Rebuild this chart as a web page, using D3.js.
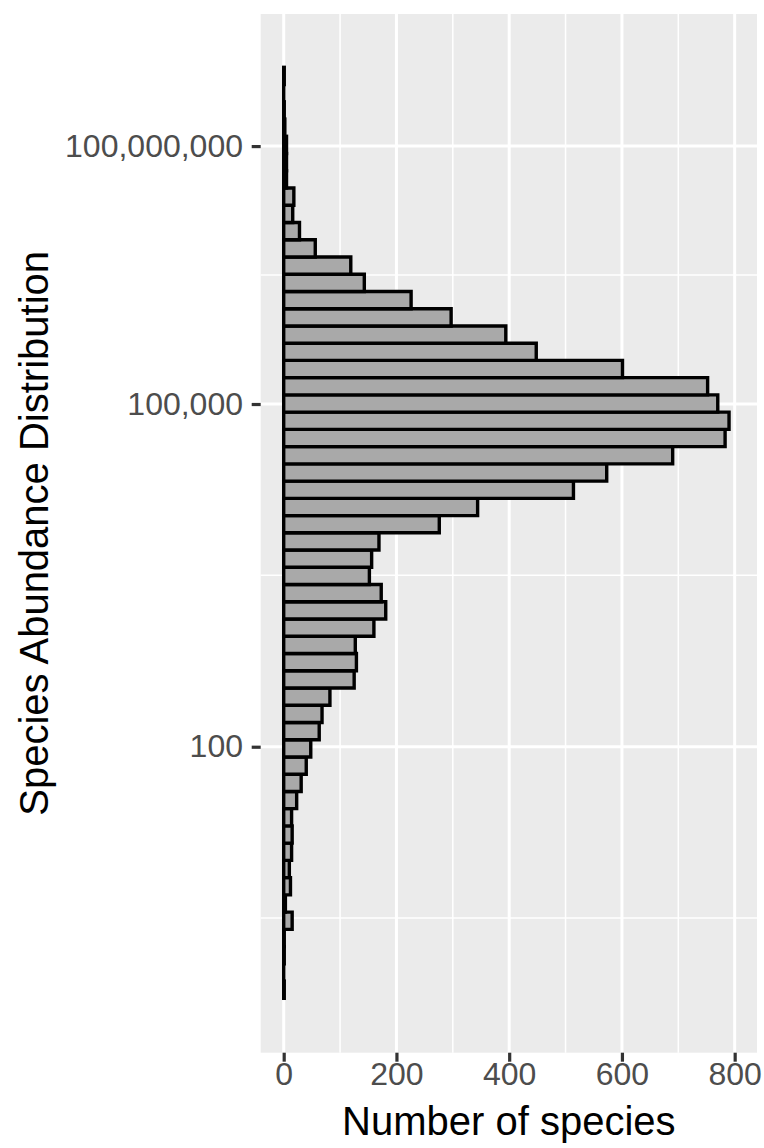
<!DOCTYPE html>
<html>
<head>
<meta charset="utf-8">
<script src="https://cdn.jsdelivr.net/npm/d3@7"></script>
<style>
  body { margin: 0; background: #fff; }
  svg { display: block; font-family: "Liberation Sans", Arial, Helvetica, sans-serif; }
</style>
</head>
<body>
<svg id="chart"></svg>
<script>
const width = 764, height = 1148
const margin = {top: 14, right: 7, bottom: 95.3, left: 260.7}

// species per abundance bin, lowest abundance first
const counts = [1, 0, 1, 1, 15, 3, 12, 10, 14, 15, 14, 23, 31, 40, 48, 63, 68, 82,
    125, 129, 127, 160, 181, 173, 152, 156, 169, 276, 344, 514, 573, 690, 783, 790,
    770, 752, 601, 448, 394, 297, 226, 143, 119, 56, 28, 16, 18, 5, 5, 5, 2, 1, 0, 1]

// bins are even in the transformed abundance axis (power of log10)
const power = 0.565
const binStart = 0.7429, binWidth = 0.05047

const yTicks = [100, 1e5, 1e8]
const xTicks = [0, 200, 400, 600, 800]
const xMinor = [100, 300, 500, 700]

const trans = v => Math.pow(Math.log10(v), power)

const svg = d3.select("svg#chart")
    .attr("width", width)
    .attr("height", height)
    .attr("viewBox", [0, 0, width, height])

const x = d3.scaleLinear()
    .domain([-40.8, 839.6])
    .range([margin.left, width - margin.right])

const y = d3.scaleLinear()
    .domain([0.5837, 3.6244])
    .range([height - margin.bottom, margin.top])

// minor y breaks sit halfway between majors in transformed space
const tMajor = yTicks.map(trans)
const yMinor = [tMajor[0] - (tMajor[1] - tMajor[0]) / 2]
for (let i = 1; i < tMajor.length; i++) yMinor.push((tMajor[i - 1] + tMajor[i]) / 2)

const bins = counts.map((count, i) => ({
    count,
    t0: binStart + i * binWidth,
    t1: binStart + (i + 1) * binWidth,
}))

// panel
svg.append("rect")
    .attr("x", margin.left)
    .attr("y", margin.top)
    .attr("width", width - margin.right - margin.left)
    .attr("height", height - margin.bottom - margin.top)
    .attr("fill", "#EBEBEB")

const grid = svg.append("g").attr("stroke", "#fff")

grid.selectAll("line.y-minor")
    .data(yMinor)
    .enter()
    .append("line").classed("y-minor", true)
    .attr("x1", margin.left).attr("x2", width - margin.right)
    .attr("y1", d => y(d)).attr("y2", d => y(d))
    .attr("stroke-width", 1.5)

grid.selectAll("line.x-minor")
    .data(xMinor)
    .enter()
    .append("line").classed("x-minor", true)
    .attr("x1", d => x(d)).attr("x2", d => x(d))
    .attr("y1", margin.top).attr("y2", height - margin.bottom)
    .attr("stroke-width", 1.5)

grid.selectAll("line.y-major")
    .data(tMajor)
    .enter()
    .append("line").classed("y-major", true)
    .attr("x1", margin.left).attr("x2", width - margin.right)
    .attr("y1", d => y(d)).attr("y2", d => y(d))
    .attr("stroke-width", 3)

grid.selectAll("line.x-major")
    .data(xTicks)
    .enter()
    .append("line").classed("x-major", true)
    .attr("x1", d => x(d)).attr("x2", d => x(d))
    .attr("y1", margin.top).attr("y2", height - margin.bottom)
    .attr("stroke-width", 3)

// Bars as paths so that empty bins still show their outline
svg.append("g")
    .selectAll("path")
    .data(bins)
    .enter()
    .append("path")
    .attr("d", d => `M${x(0)},${y(d.t1)}H${x(d.count)}V${y(d.t0)}H${x(0)}Z`)
    .attr("fill", "#A9A9A9")
    .attr("stroke", "#000")
    .attr("stroke-width", 3.4)
    .attr("stroke-linejoin", "miter")

// X axis
const xAxis = svg.append("g")
    .attr("transform", `translate(0, ${height - margin.bottom})`)
    .call(d3.axisBottom(x).tickValues(xTicks).tickSize(9).tickPadding(1))

// Y axis
const yAxis = svg.append("g")
    .attr("transform", `translate(${margin.left}, 0)`)
    .call(d3.axisLeft(y).tickValues(tMajor).tickSize(9).tickPadding(8.7)
        .tickFormat((d, i) => d3.format(",")(yTicks[i])))

for (const axis of [xAxis, yAxis]) {
    axis.select(".domain").remove()
    axis.selectAll(".tick line").attr("stroke", "#333").attr("stroke-width", 3.2)
    axis.selectAll(".tick text")
        .attr("fill", "#4D4D4D")
        .style("font-size", "32px")
        .style("font-family", "inherit")
}

svg.append("text")
    .attr("x", (margin.left + width - margin.right) / 2)
    .attr("y", 1135)
    .attr("text-anchor", "middle")
    .style("font-size", "40px")
    .text("Number of species")

svg.append("text")
    .attr("transform", `translate(48, ${(margin.top + height - margin.bottom) / 2}) rotate(-90)`)
    .attr("text-anchor", "middle")
    .style("font-size", "40px")
    .text("Species Abundance Distribution")
</script>
</body>
</html>
